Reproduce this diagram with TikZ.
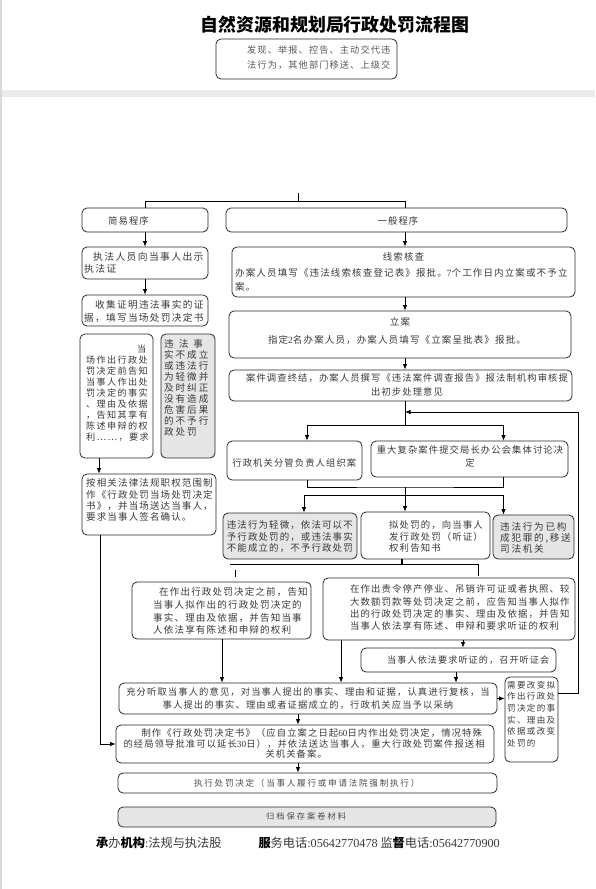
\documentclass[tikz,border=0pt]{standalone}
\usepackage{fontspec}
\setmainfont{Noto Sans CJK SC}
\newfontfamily\numfont{Liberation Serif}
\usetikzlibrary{arrows.meta,calc}
\definecolor{tc}{HTML}{3A3A3A}
\definecolor{bc}{HTML}{2A2A2A}
\definecolor{gf}{HTML}{E6E6E6}
\newcommand\F[3]{\fontsize{#1}{#2}\selectfont\addfontfeatures{LetterSpace=#3}}
\newcommand\bx[6][]{\node[box,#1,minimum width={(#4-#2)*1pt},minimum height={(#5-#3)*1pt}] (#6) at ({(#2+#4)/2},{(#3+#5)/2}) {};}
\begin{document}
\begin{tikzpicture}[x=1pt,y=-1pt,
  box/.style={draw=bc,line width=0.8pt,rounded corners=5pt,fill=white,inner sep=0pt},
  gbox/.style={fill=gf},
  txt/.style={inner sep=0pt,text=tc,align=left,anchor=west},
  ctxt/.style={inner sep=0pt,text=tc,align=center},
  ln/.style={draw=black,line width=0.8pt},
  arr/.style={ln,-{Latex[length=5.5pt,width=4.5pt]}}]
\useasboundingbox (0,0) rectangle (595,889);
\fill[white] (0,0) rectangle (595,889);
\fill[black!8] (0,90) rectangle (595,97);
\draw[black!15,line width=1.2pt] (1,0) -- (1,889);

% title and top box
\node[ctxt,text=black,font=\bfseries\F{17.9}{20}{0}] (title) at (335,25) {自然资源和规划局行政处罚流程图};
\bx{216}{39}{397}{79}{top}
\node[txt,text=black!65,font=\F{9.2}{15}{12}] (topt) at (247,57.5) {发现、举报、控告、主动交代违\\法行为，其他部门移送、上级交};

% boxes
\bx{82}{208}{208}{232}{jianyi}
\bx{226}{208}{567}{232}{yiban}
\bx{82}{247}{208}{279}{chushi}
\bx{82}{295}{208}{326}{shouji}
\bx{80}{334}{153}{458}{dangchang}
\bx[gbox]{161}{334}{215}{458}{weifa}
\bx{82}{474}{216}{535}{anxg}
\bx{232}{247}{575}{297}{xiansuo}
\bx{229}{311}{571}{358}{lian}
\bx{229}{370}{572}{401}{diaocha}
\bx{227}{441}{362}{480}{fenguan}
\bx{371}{441}{568}{477}{zhongda}
\bx[gbox]{223}{513}{357}{559}{qingwei}
\bx{361}{512}{490}{559}{nichufa}
\bx[gbox]{493}{515}{574}{559}{fanzui}
\bx{132}{582}{311}{639}{gaozhiL}
\bx{323}{578}{575}{640}{gaozhiR}
\bx{361}{648}{556}{672}{tingzheng}
\bx{119}{683}{497}{714}{chongfen}
\bx{505}{677}{558}{762}{xuyao}
\bx{116}{725}{494}{763}{zhizuo}
\bx{118}{773}{497}{793}{zhixing}
\bx[gbox]{118}{807}{496}{827}{guidang}

% texts
\node[txt,font=\F{9.3}{12}{12}] (jianyit) at (108,221) {简易程序};
\node[ctxt,font=\F{9.3}{12}{12}] (yibant) at (398,221) {一般程序};
\node[txt,font=\F{9.8}{11.6}{14}] (chushit) at (84,262.5) {\hspace*{9pt}执法人员向当事人出示\\执法证};
\node[txt,font=\F{9.7}{12.7}{13}] (shoujit) at (84,311.3) {\hspace*{11pt}收集证明违法事实的证\\据，填写当场处罚决定书};
\node[txt,font=\F{9.1}{10.9}{15}] (dangchangt) at (86,393.2) {\hspace*{51pt}当\\场作出行政处\\罚决定前告知\\当事人作出处\\罚决定的事实\\、理由及依据\\，告知其享有\\陈述申辩的权\\利……，要求};
\node[txt,font=\F{9.6}{10.97}{20}] (weifat) at (164,388) {违\hspace{5pt}法\hspace{5pt}事\\实不成立\\或违法行\\为轻微并\\及时纠正\\没有造成\\危害后果\\的不予行\\政处罚};
\node[txt,font=\F{9.5}{11.3}{12}] (anxgt) at (86,500.3) {按相关法律法规职权范围制\\作《行政处罚当场处罚决定\\书》，并当场送达当事人，\\要求当事人签名确认。};
\node[ctxt,font=\F{9.5}{12}{12}] (xiansuot1) at (403.5,256.7) {线索核查};
\node[txt,font=\F{9.5}{13.7}{12}] (xiansuot2) at (235,279.9) {办案人员填写《违法线索核查登记表》报批。{\numfont 7}个工作日内立案或不予立\\案。};
\node[ctxt,font=\F{9.5}{12}{12}] (liant1) at (400,321.7) {立案};
\node[ctxt,font=\F{9.5}{12}{12}] (liant2) at (397,340) {指定{\numfont 2}名办案人员，办案人员填写《立案呈批表》报批。};
\node[ctxt,font=\F{9.3}{13.7}{12}] (diaochat) at (407,384.9) {案件调查终结，办案人员撰写《违法案件调查报告》报法制机构审核提\\出初步处理意见};
\node[ctxt,font=\F{9.3}{12}{12}] (fenguant) at (294.3,463) {行政机关分管负责人组织案};
\node[ctxt,font=\F{9.3}{13.3}{12}] (zhongdat) at (470,456.7) {重大复杂案件提交局长办公会集体讨论决\\定};
\node[txt,font=\F{9.45}{11.65}{12}] (qingweit) at (226.7,536.7) {违法行为轻微，依法可以不\\予行政处罚的，或违法事实\\不能成立的，不予行政处罚};
\node[txt,font=\F{9.4}{11.5}{12}] (nichufat) at (389,536.5) {拟处罚的，向当事人\\发行政处罚（听证）\\权利告知书};
\node[txt,font=\F{9.6}{11.2}{18}] (fanzuit) at (500,537.8) {违法行为已构\\成犯罪的,移送\\司法机关};
\node[txt,font=\F{9.55}{12.8}{12}] (gaozhiLt) at (153,611) {\hspace*{6pt}在作出行政处罚决定之前，告知\\当事人拟作出的行政处罚决定的\\事实、理由及依据，并告知当事\\人依法享有陈述和申辩的权利};
\node[txt,font=\F{9.37}{12.2}{12}] (gaozhiRt) at (350,607.7) {在作出责令停产停业、吊销许可证或者执照、较\\大数额罚款等处罚决定之前，应告知当事人拟作\\出的行政处罚决定的事实、理由及依据，并告知\\当事人依法享有陈述、申辩和要求听证的权利};
\node[txt,font=\F{9.1}{12}{12}] (tingzhengt) at (387,660) {当事人依法要求听证的，召开听证会};
\node[ctxt,font=\F{9.3}{13.3}{12}] (chongfent) at (308,698.4) {充分听取当事人的意见，对当事人提出的事实、理由和证据，认真进行复核，当\\事人提出的事实、理由或者证据成立的，行政机关应当予以采纳};
\node[txt,font=\F{8.5}{11.6}{16}] (xuyaot) at (507,714) {需要改变拟\\作出行政处\\罚决定的事\\实、理由及\\依据或改变\\处罚的};
\node[txt,font=\F{9.3}{10.8}{12}] (zhizuot) at (123.3,743.5) {\hspace*{18pt}制作《行政处罚决定书》（应自立案之日起{\numfont 60}日内作出处罚决定，情况特殊\\的经局领导批准可以延长{\numfont 30}日），并依法送达当事人，重大行政处罚案件报送相\\\hspace*{142pt}关机关备案。};
\node[ctxt,text=black!70,font=\F{8.6}{12}{20}] (zhixingt) at (306.7,783.3) {执行处罚决定（当事人履行或申请法院强制执行）};
\node[ctxt,text=black!70,font=\F{8.2}{12}{25}] (guidangt) at (306,816.7) {归档保存案卷材料};
\node[txt,font=\F{12.2}{14}{0}] (foot1) at (96,843.3) {\textbf{\color{black}承}办\textbf{\color{black}机构}{\numfont :}法规与执法股};
\node[txt,font=\F{12.2}{14}{0}] (foot2) at (258.3,843.3) {\textbf{\color{black}服}务电话{\numfont :05642770478} 监\textbf{\color{black}督}电话{\numfont :05642770900}};

% reference x positions
\coordinate (xr) at (405,0);
\coordinate (xl1) at (99,0);
\coordinate (xl2) at (100,0);
\coordinate (xa) at (307,0);
\coordinate (xb) at (503.5,0);
\coordinate (xc) at (304,0);
\coordinate (xn) at (402,0);
\coordinate (xt) at (463,0);
\coordinate (xg) at (222,0);
\coordinate (xh) at (341,0);
\coordinate (xi) at (456,0);
\coordinate (xp) at (298,0);

% connectors
\coordinate (tick) at (298,193);
\draw[ln] (tick) -- ++(0,8.5);
\draw[ln] (jianyi.north) -- ++(0,-6.5) -| (yiban.north -| xr);
\draw[arr] (jianyi.south) -- (chushi.north);
\draw[arr] (chushi.south) -- (shouji.north);
\draw[arr] (dangchang.south -| xl1) -- (anxg.north -| xl1);
\draw[arr] (anxg.south -| xl2) |- (zhizuo.west);
\draw[arr] (yiban.south -| xr) -- (xiansuo.north -| xr);
\draw[arr] (xiansuo.south -| xr) -- (lian.north -| xr);
\draw[arr] (lian.south -| xr) -- (diaocha.north -| xr);
\coordinate (s1) at (405,425);
\coordinate (s2) at (405,487);
\coordinate (s3) at (405,495);
\draw[ln] (diaocha.south -| xr) -- (s1);
\draw[arr] (s1) -| (fenguan.north -| xa);
\draw[arr] (s1) -| (zhongda.north -| xb);
\draw[ln] (fenguan.south -| xa) |- (s2) -| (zhongda.south -| xb);
\draw[ln] (s2) -- (s3);
\draw[arr] (s3) -- (nichufa.north -| xr);
\draw[arr] (s3) -| (qingwei.north -| xc);
\draw[arr] (s3) -| (fanzui.north -| xb);
\coordinate (h1) at (230,564);
\coordinate (h2) at (478,564);
\coordinate (hk) at (235,570);
\draw[ln,line width=2pt] (nichufa.south -| xn) -- (xn |- h1);
\draw[ln] (h1) -- (h2) -- ++(0,12);
\draw[ln] (hk) -- ++(0,7);
\coordinate (r1) at (578,693);
\coordinate (r2) at (578,412);
\draw[arr] (xuyao.east |- r1) -- (r1) -- (r2) -- (r2 -| xr);
\draw[arr] (gaozhiR.south -| xt) -- (tingzheng.north -| xt);
\draw[arr] (gaozhiL.south -| xg) -- (chongfen.north -| xg);
\draw[arr] (gaozhiR.south -| xh) -- (chongfen.north -| xh);
\draw[arr] (tingzheng.south -| xi) -- (chongfen.north -| xi);
\draw[arr] (chongfen.east) -- (xuyao.west |- chongfen.east);
\draw[arr] (chongfen.south -| xp) -- (zhizuo.north -| xp);
\draw[arr] (zhizuo.south -| xp) -- (zhixing.north -| xp);
\end{tikzpicture}
\end{document}
